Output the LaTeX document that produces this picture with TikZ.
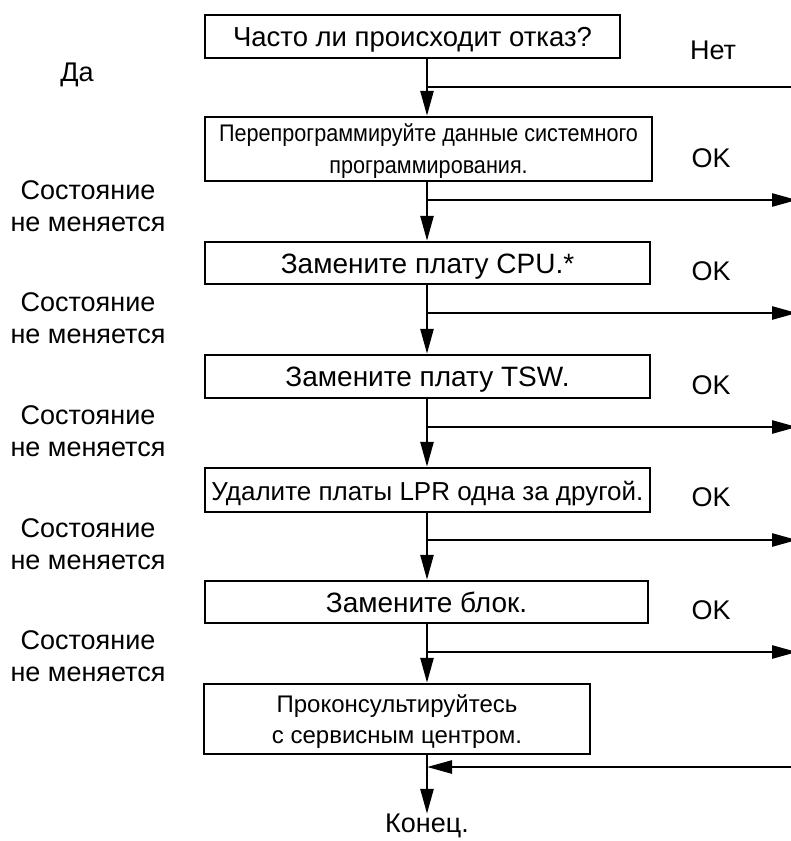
\documentclass[tikz,border=0pt]{standalone}
\usepackage{fontspec}
\setmainfont{Liberation Sans}
\newfontfamily\narrowsans[FakeStretch=0.9]{Liberation Sans}
\usetikzlibrary{arrows.meta}

\begin{document}
\begin{tikzpicture}[x=1pt, y=-1pt,
    stepbox/.style={draw, line width=2.4pt, inner sep=0pt, align=center,
                    font=\fontsize{28}{32}\selectfont,
                    text height=20pt, text depth=0pt},
    lbl/.style={inner sep=0pt, align=center, font=\fontsize{27}{32}\selectfont},
    flow/.style={line width=2.6pt, -{Triangle[length=25pt, width=13pt]}},
    wire/.style={line width=2.6pt}]
  \useasboundingbox (0,0) rectangle (791,841);

  %% Boxes along the main trunk
  \node[stepbox, minimum width=415, minimum height=43, font=\fontsize{27.5}{32}\selectfont]
    (often) at (412.5,36.5) {Часто ли происходит отказ?};
  \node[stepbox, minimum width=447, minimum height=64, text height=49pt,
        font=\narrowsans\fontsize{24}{32}\selectfont]
    (reprog) at (428.5,149)
    {Перепрограммируйте данные системного\\программирования.};
  \node[stepbox, minimum width=445, minimum height=42] (cpu) at (427.5,263)
    {Замените плату CPU.*};
  \node[stepbox, minimum width=445, minimum height=43] (tsw) at (427.5,376.5)
    {Замените плату TSW.};
  \node[stepbox, minimum width=445, minimum height=44, font=\fontsize{26}{32}\selectfont]
    (lpr) at (427.5,490) {Удалите платы LPR одна за другой.};
  \node[stepbox, minimum width=443, minimum height=42] (unit) at (426.5,602)
    {Замените блок.};
  \node[stepbox, minimum width=386, minimum height=70, text height=48pt,
        font=\fontsize{24}{31}\selectfont]
    (service) at (397,719) {Проконсультируйтесь\\с сервисным центром.};
  \node[lbl] (done) at (427,826) {Конец.};

  %% Branch points on the trunk and their ends at the right border
  \coordinate (no)   at (427,87);
  \coordinate (noR)  at (791,87);
  \coordinate (ok1)  at (427,200);
  \coordinate (ok1R) at (797,200);
  \coordinate (ok2)  at (427,313);
  \coordinate (ok2R) at (797,313);
  \coordinate (ok3)  at (427,427);
  \coordinate (ok3R) at (797,427);
  \coordinate (ok4)  at (427,540);
  \coordinate (ok4R) at (797,540);
  \coordinate (ok5)  at (427,652);
  \coordinate (ok5R) at (797,652);
  \coordinate (back)  at (427,767);
  \coordinate (backR) at (791,767);

  %% Trunk
  \draw[flow] (often.south -| no) -- (reprog.north -| no);
  \draw[flow] (reprog.south -| ok1) -- (cpu.north -| ok1);
  \draw[flow] (cpu.south -| ok2) -- (tsw.north -| ok2);
  \draw[flow] (tsw.south -| ok3) -- (lpr.north -| ok3);
  \draw[flow] (lpr.south -| ok4) -- (unit.north -| ok4);
  \draw[flow] (unit.south -| ok5) -- (service.north -| ok5);
  \draw[flow] (service.south -| back) -- (done.north);

  %% Side branches
  \draw[wire] (no) -- (noR);
  \draw[flow] (ok1) -- (ok1R);
  \draw[flow] (ok2) -- (ok2R);
  \draw[flow] (ok3) -- (ok3R);
  \draw[flow] (ok4) -- (ok4R);
  \draw[flow] (ok5) -- (ok5R);
  \draw[flow] (backR) -- (back);

  %% Branch labels
  \node[lbl] (net) at (713,50) {Нет};
  \node[lbl] (okA) at (711,158) {OK};
  \node[lbl] (okB) at (711,271) {OK};
  \node[lbl] (okC) at (711,385) {OK};
  \node[lbl] (okD) at (711,497) {OK};
  \node[lbl] (okE) at (711,610) {OK};

  \node[lbl] (yes) at (77,75) {Да};
  \node[lbl] (sameA) at (88,206) {Состояние\\не меняется};
  \node[lbl] (sameB) at (88,318) {Состояние\\не меняется};
  \node[lbl] (sameC) at (88,431) {Состояние\\не меняется};
  \node[lbl] (sameD) at (88,544) {Состояние\\не меняется};
  \node[lbl] (sameE) at (88,656) {Состояние\\не меняется};
\end{tikzpicture}
\end{document}
